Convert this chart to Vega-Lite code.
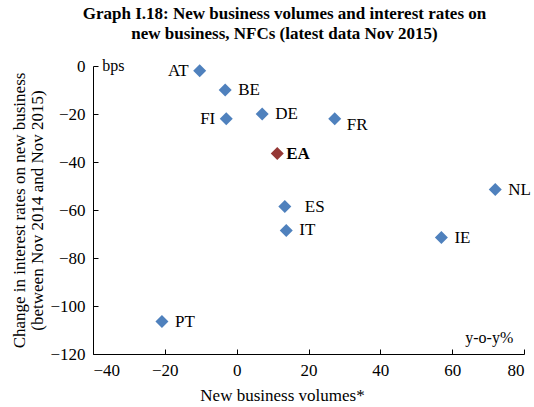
{
  "$schema": "https://vega.github.io/schema/vega-lite/v6.json",
  "width": 431,
  "height": 288,
  "autosize": {"type": "none"},
  "padding": {"left": 93, "top": 66, "right": 10, "bottom": 53},
  "background": "white",
  "config": {
    "view": {"stroke": null},
    "font": "Liberation Serif",
    "axis": {
      "grid": false,
      "domainColor": "black",
      "tickColor": "black",
      "labelColor": "black",
      "titleColor": "black",
      "labelFont": "Liberation Serif",
      "titleFont": "Liberation Serif",
      "labelFontSize": 17,
      "titleFontSize": 17,
      "titleFontWeight": "normal",
      "tickSize": -5,
      "labelPadding": 13
    }
  },
  "title": {
    "text": ["Graph I.18: New business volumes and interest rates on", "new business, NFCs (latest data Nov 2015)"],
    "font": "Liberation Serif",
    "fontSize": 17,
    "fontWeight": "bold",
    "color": "black",
    "anchor": "middle",
    "dx": -24,
    "offset": 14,
    "lineHeight": 20
  },
  "datasets": {
    "points": [
      {"country": "AT", "volume": -10.3, "rate": -2, "type": "country"},
      {"country": "BE", "volume": -3.2, "rate": -10, "type": "country"},
      {"country": "FI", "volume": -2.9, "rate": -22, "type": "country"},
      {"country": "DE", "volume": 7.1, "rate": -20, "type": "country"},
      {"country": "FR", "volume": 27.3, "rate": -22, "type": "country"},
      {"country": "EA", "volume": 11.3, "rate": -36.5, "type": "EA"},
      {"country": "ES", "volume": 13.4, "rate": -58.5, "type": "country"},
      {"country": "IT", "volume": 13.8, "rate": -68.5, "type": "country"},
      {"country": "NL", "volume": 72, "rate": -51.5, "type": "country"},
      {"country": "IE", "volume": 57, "rate": -71.5, "type": "country"},
      {"country": "PT", "volume": -20.8, "rate": -106.5, "type": "country"}
    ],
    "notes": [
      {"label": "bps", "volume": -37.4, "rate": 0},
      {"label": "y-o-y%", "volume": 77, "rate": -113.5}
    ]
  },
  "data": {"name": "points"},
  "encoding": {
    "x": {
      "field": "volume",
      "type": "quantitative",
      "scale": {"domain": [-40, 80], "nice": false, "zero": false},
      "axis": {"title": "New business volumes*", "values": [-40, -20, 0, 20, 40, 60, 80], "titlePadding": 9, "titleX": 189}
    },
    "y": {
      "field": "rate",
      "type": "quantitative",
      "scale": {"domain": [-120, 0], "nice": false, "zero": false},
      "axis": {
        "title": ["Change in interest rates on new business", "(between Nov 2014 and Nov 2015)"],
        "values": [-120, -100, -80, -60, -40, -20, 0],
        "titlePadding": 3,
        "titleLineHeight": 18
      }
    }
  },
  "layer": [
    {
      "mark": {"type": "point", "shape": "diamond", "filled": true, "size": 169, "opacity": 1},
      "encoding": {
        "color": {
          "field": "type",
          "type": "nominal",
          "scale": {"domain": ["country", "EA"], "range": ["#4F81BD", "#953735"]},
          "legend": null
        }
      }
    },
    {
      "transform": [{"filter": {"field": "country", "oneOf": ["AT", "FI"]}}],
      "mark": {"type": "text", "align": "right", "baseline": "middle", "dx": -11, "fontSize": 17, "color": "black"},
      "encoding": {"text": {"field": "country"}}
    },
    {
      "transform": [{"filter": {"field": "country", "oneOf": ["BE", "DE", "IE", "IT", "NL", "PT"]}}],
      "mark": {"type": "text", "align": "left", "baseline": "middle", "dx": 13, "fontSize": 17, "color": "black"},
      "encoding": {"text": {"field": "country"}}
    },
    {
      "transform": [{"filter": {"field": "country", "equal": "FR"}}],
      "mark": {"type": "text", "align": "left", "baseline": "middle", "dx": 12, "dy": 6, "fontSize": 17, "color": "black"},
      "encoding": {"text": {"field": "country"}}
    },
    {
      "transform": [{"filter": {"field": "country", "equal": "ES"}}],
      "mark": {"type": "text", "align": "left", "baseline": "middle", "dx": 20, "dy": 1, "fontSize": 17, "color": "black"},
      "encoding": {"text": {"field": "country"}}
    },
    {
      "transform": [{"filter": {"field": "country", "equal": "EA"}}],
      "mark": {"type": "text", "align": "left", "baseline": "middle", "dx": 9, "fontSize": 17, "fontWeight": "bold", "color": "black"},
      "encoding": {"text": {"field": "country"}}
    },
    {
      "data": {"name": "notes"},
      "transform": [{"filter": {"field": "label", "equal": "bps"}}],
      "mark": {"type": "text", "align": "left", "baseline": "middle", "fontSize": 16, "color": "black"},
      "encoding": {"text": {"field": "label"}}
    },
    {
      "data": {"name": "notes"},
      "transform": [{"filter": {"field": "label", "equal": "y-o-y%"}}],
      "mark": {"type": "text", "align": "right", "baseline": "middle", "fontSize": 16, "color": "black"},
      "encoding": {"text": {"field": "label"}}
    }
  ]
}
